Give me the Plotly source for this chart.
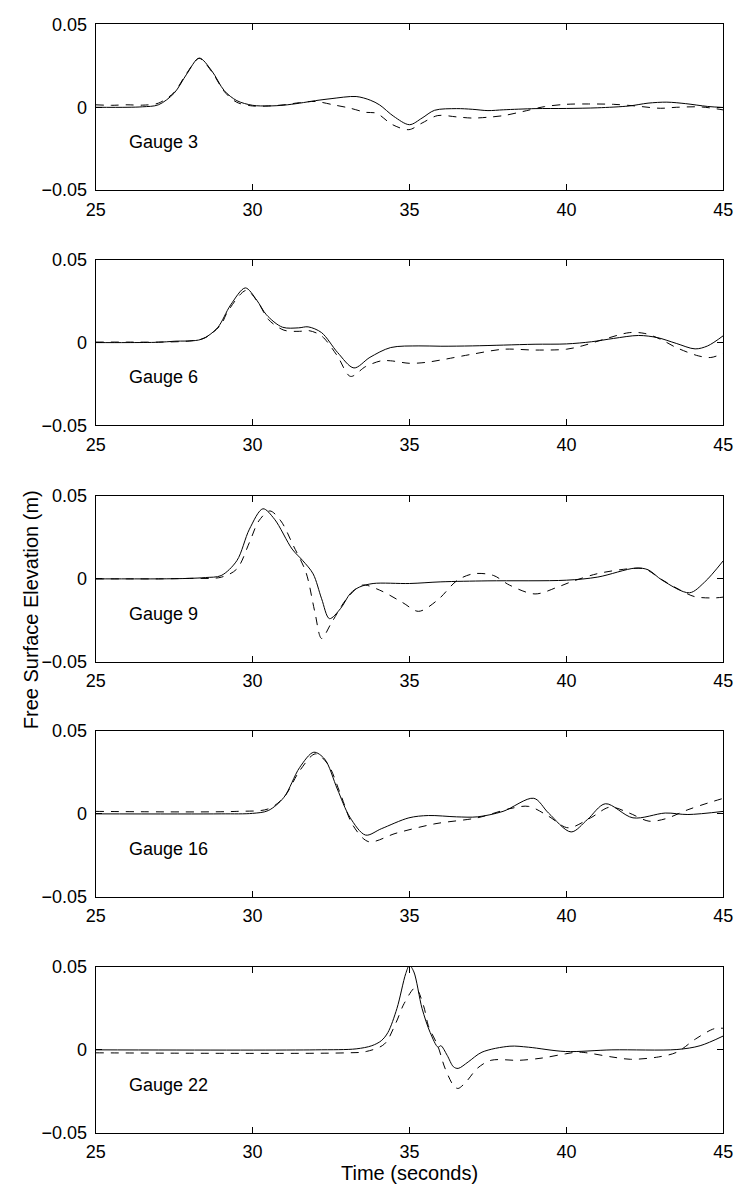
import plotly.graph_objects as go

# ---------------- data ----------------
gauge_names = ["Gauge 3", "Gauge 6", "Gauge 9", "Gauge 16", "Gauge 22"]
x_ticks = [25, 30, 35, 40, 45]
y_ticks = [-0.05, 0, 0.05]
y_tick_text = ["\u22120.05", "0", "0.05"]

# Gauge 3
g3_model_t = [25, 26, 26.5, 27, 27.5, 27.9, 28.3, 28.7, 29.1, 29.5, 30, 30.5, 31, 31.5, 32, 32.5, 33.3,
              33.75, 34.05, 34.5, 35.0, 35.4, 35.8, 36.5, 37, 37.5, 38, 39, 40, 41, 42, 42.6, 43.2, 43.8, 44.5, 45]
g3_model_v = [0.0, 0.0, 0.0003, 0.0015, 0.0085, 0.020, 0.0297, 0.022, 0.010, 0.004, 0.0012, 0.0008, 0.0013,
              0.0025, 0.004, 0.0052, 0.0065, 0.0043, 0.0014, -0.0055, -0.0105, -0.0065, -0.0018, -0.0008,
              -0.0012, -0.002, -0.0015, -0.0008, -0.0007, -0.0003, 0.0008, 0.0025, 0.0031, 0.0022, 0.0005, -0.0001]
g3_meas_t = [25, 25.5, 26, 26.5, 27, 27.5, 27.9, 28.3, 28.7, 29.1, 29.5, 30, 30.5, 31, 31.5, 32, 32.6, 33.1,
             33.6, 33.95, 34.46, 34.98, 35.4, 35.9, 36.5, 37, 37.5, 38, 38.6, 39.3, 40, 40.7, 41.5, 42.2, 43,
             43.5, 44.3, 45]
g3_meas_v = [0.0015, 0.0012, 0.0015, 0.0013, 0.0025, 0.009, 0.0205, 0.0295, 0.0215, 0.0095, 0.003, 0.0008,
             0.0008, 0.0015, 0.0028, 0.0035, 0.0014, -0.0005, -0.003, -0.0036, -0.0105, -0.0135, -0.0095,
             -0.005, -0.0058, -0.0065, -0.006, -0.005, -0.0026, 0.0004, 0.0018, 0.002, 0.0018, 0.0008,
             -0.0006, 0.0, 0.0002, -0.0016]

# Gauge 6
g6_model_t = [25, 26, 27, 27.5, 28.37, 28.88, 29.3, 29.77, 30.13, 30.44, 30.95, 31.47, 31.77, 32.2, 32.71,
              33.23, 33.74, 34.4, 35.3, 36, 37, 38, 39, 40, 40.8, 41.5, 42.3, 42.9, 43.5, 44.1, 44.5, 45]
g6_model_v = [0.0, 0.0, 0.0002, 0.0008, 0.002, 0.0089, 0.0227, 0.033, 0.0257, 0.0168, 0.0093, 0.0089, 0.0095,
              0.006, -0.006, -0.0153, -0.0089, -0.003, -0.002, -0.0022, -0.002, -0.0015, -0.001, -0.0008,
              0.0005, 0.0025, 0.0043, 0.003, -0.0005, -0.0038, -0.002, 0.0042]
g6_meas_t = [25, 26, 27, 28, 28.5, 29.0, 29.2, 29.8, 30.2, 30.5, 31, 31.5, 31.8, 32.2, 32.7, 33.12, 33.6, 34.1,
             34.4, 35, 35.5, 36, 37, 38, 39, 40, 40.5, 41.2, 42, 42.5, 43, 43.5, 44.2, 44.6, 45]
g6_meas_v = [0.0003, 0.0003, 0.0003, 0.001, 0.003, 0.011, 0.0185, 0.0315, 0.0235, 0.014, 0.0075, 0.0068,
             0.0072, 0.004, -0.008, -0.0204, -0.0145, -0.011, -0.011, -0.0125, -0.012, -0.0105, -0.007,
             -0.004, -0.0045, -0.004, -0.002, 0.002, 0.006, 0.0055, 0.002, -0.003, -0.008, -0.009, -0.0065]

# Gauge 9
g9_model_t = [25, 26, 27, 28, 28.5, 29, 29.5, 29.9, 30.33, 30.7, 31.26, 31.6, 31.93, 32.2, 32.45, 32.8, 33.12,
              33.4, 33.84, 35, 36, 37.5, 40, 41, 42.2, 42.6, 43.05, 43.92, 44.4, 45]
g9_model_v = [0.0, 0.0, 0.0, 0.0003, 0.0008, 0.002, 0.011, 0.030, 0.0423, 0.036, 0.018, 0.011, 0.003, -0.012,
              -0.024, -0.018, -0.0087, -0.005, -0.0028, -0.0028, -0.0018, -0.0012, -0.0008, 0.0011, 0.0065,
              0.0055, -0.0008, -0.0084, -0.002, 0.011]
g9_meas_t = [25, 26, 27, 28, 29, 29.5, 29.9, 30.2, 30.55, 30.9, 31.3, 31.7, 31.98, 32.2, 32.5, 33.0, 33.49,
             34.05, 34.78, 35.29, 35.9, 36.53, 37.05, 37.67, 38.19, 39.0, 39.74, 40.15, 40.98, 42.0, 42.5, 43.0,
             43.6, 44.08, 44.7, 45]
g9_meas_v = [0.0, 0.0, 0.0, 0.0003, 0.001, 0.006, 0.022, 0.035, 0.041, 0.035, 0.020, 0.004, -0.0196, -0.036,
             -0.027, -0.012, -0.0038, -0.0068, -0.0143, -0.0196, -0.0127, -0.0008, 0.0031, 0.0021, -0.0038,
             -0.0091, -0.0048, -0.0018, 0.0031, 0.0061, 0.006, 0.0, -0.0065, -0.0107, -0.0115, -0.011]

# Gauge 16
g16_model_t = [25, 29, 30, 30.5, 31, 31.5, 31.95, 32.3, 32.7, 33.1, 33.6, 34.1, 34.98, 35.6, 36.5, 37.16,
               37.98, 38.96, 39.43, 40.15, 40.67, 41.24, 42.12, 43.15, 43.87, 45]
g16_model_v = [0.0, 0.0, 0.0003, 0.002, 0.010, 0.028, 0.0372, 0.033, 0.015, -0.002, -0.0128, -0.009,
               -0.0024, -0.001, -0.0018, -0.0018, 0.0015, 0.0094, 0.0005, -0.0109, -0.0034, 0.0061, -0.0024,
               0.0005, -0.0004, 0.0015]
g16_meas_t = [25, 29.5, 30.5, 31, 31.5, 32.0, 32.4, 32.8, 33.2, 33.7, 34.57, 35.81, 37.16, 38.19, 38.8, 39.43,
              40.05, 40.77, 41.39, 42.0, 42.63, 43.15, 43.87, 44.5, 45]
g16_meas_v = [0.0015, 0.0015, 0.003, 0.010, 0.026, 0.0362, 0.030, 0.012, -0.007, -0.0168, -0.0117, -0.006,
              -0.0024, 0.0031, 0.0045, -0.0014, -0.0084, -0.0024, 0.0041, 0.0005, -0.0044, -0.003, 0.0025,
              0.0065, 0.0094]

# Gauge 22
g22_model_t = [25, 32, 33.3, 33.8, 34.1, 34.31, 34.6, 34.88, 35.0, 35.14, 35.4, 35.66, 35.91, 36.0, 36.2, 36.4,
               36.55, 36.87, 37.31, 38.2, 38.79, 39.97, 41.45, 43.52, 44.26, 45]
g22_model_v = [0.0, 0.0, 0.0006, 0.0025, 0.0055, 0.0104, 0.025, 0.046, 0.051, 0.047, 0.025, 0.0104, 0.0016,
               0.0025, -0.0033, -0.0102, -0.0112, -0.0073, -0.0014, 0.0022, 0.0016, -0.001, 0.0, 0.0002,
               0.0025, 0.0084]
g22_meas_t = [25, 33.0, 33.62, 34.2, 34.57, 34.83, 35.19, 35.45, 35.6, 35.9, 36.13, 36.42, 36.55, 36.8, 37.17,
              37.6, 38.5, 39.24, 39.97, 40.42, 41.45, 42.04, 42.93, 43.52, 44.11, 44.7, 45]
g22_meas_v = [-0.0018, -0.0018, -0.001, 0.0035, 0.0164, 0.028, 0.0375, 0.0265, 0.0146, 0.0025, -0.011, -0.022,
              -0.0233, -0.0194, -0.011, -0.0063, -0.0063, -0.0049, -0.0024, -0.0014, -0.0043, -0.0057,
              -0.0043, -0.0014, 0.0065, 0.0127, 0.013]

model_t = [g3_model_t, g6_model_t, g9_model_t, g16_model_t, g22_model_t]
model_v = [g3_model_v, g6_model_v, g9_model_v, g16_model_v, g22_model_v]
meas_t = [g3_meas_t, g6_meas_t, g9_meas_t, g16_meas_t, g22_meas_t]
meas_v = [g3_meas_v, g6_meas_v, g9_meas_v, g16_meas_v, g22_meas_v]

# ---------------- layout geometry (pixels) ----------------
W, H = 746, 1195
X_LEFT, X_RIGHT = 88, 733
PANEL_TOPS = [14.7, 254.0, 494.3, 733.3, 973.3]
PANEL_H = 168.5
FONT = "Liberation Sans, Arial, Helvetica, sans-serif"

fig = go.Figure()
layout = dict(
    width=W, height=H, margin=dict(l=0, r=0, t=0, b=0),
    paper_bgcolor="white", plot_bgcolor="white",
    showlegend=False, font=dict(family=FONT, size=18, color="black"),
    annotations=[],
)

for i in range(5):
    sfx = "" if i == 0 else str(i + 1)
    fig.add_trace(go.Scatter(
        x=meas_t[i], y=meas_v[i], mode="lines",
        line=dict(color="black", width=1, dash="8px,7px", shape="spline", smoothing=0.9),
        xaxis="x" + sfx, yaxis="y" + sfx, hoverinfo="skip"))
    fig.add_trace(go.Scatter(
        x=model_t[i], y=model_v[i], mode="lines",
        line=dict(color="black", width=1, shape="spline", smoothing=0.9),
        xaxis="x" + sfx, yaxis="y" + sfx, hoverinfo="skip"))

    top = PANEL_TOPS[i]
    bot = top + PANEL_H
    layout["xaxis" + sfx] = dict(
        domain=[X_LEFT / W, X_RIGHT / W], range=[25, 45], anchor="y" + sfx,
        tickvals=x_ticks, ticktext=[str(v) for v in x_ticks],
        ticks="inside", ticklen=6, tickcolor="black", tickwidth=1,
        showline=True, linecolor="black", linewidth=1, mirror="ticks",
        showgrid=False, zeroline=False, ticklabelstandoff=3,
        tickfont=dict(family=FONT, size=18, color="black"))
    layout["yaxis" + sfx] = dict(
        domain=[1 - bot / H, 1 - top / H], range=[-0.05, 0.05], anchor="x" + sfx,
        tickvals=y_ticks, ticktext=y_tick_text,
        ticks="inside", ticklen=6, tickcolor="black", tickwidth=1,
        showline=True, linecolor="black", linewidth=1, mirror="ticks",
        showgrid=False, zeroline=False, ticklabelstandoff=4,
        tickfont=dict(family=FONT, size=18, color="black"))
    layout["annotations"].append(dict(
        x=26, y=-0.021, xref="x" + sfx, yref="y" + sfx, text=gauge_names[i],
        showarrow=False, xanchor="left", yanchor="middle",
        font=dict(family=FONT, size=18, color="black")))

layout["annotations"].append(dict(
    x=21 / W, y=1 - 610 / H, xref="paper", yref="paper", text="Free Surface Elevation (m)",
    textangle=-90, showarrow=False, xanchor="center", yanchor="middle",
    font=dict(family=FONT, size=20, color="black")))
layout["annotations"].append(dict(
    x=(X_LEFT + X_RIGHT) / 2 / W, y=1 - 1183 / H, xref="paper", yref="paper", text="Time (seconds)",
    showarrow=False, xanchor="center", yanchor="middle",
    font=dict(family=FONT, size=20, color="black")))

fig.update_layout(**layout)
fig.write_html("out.html")
